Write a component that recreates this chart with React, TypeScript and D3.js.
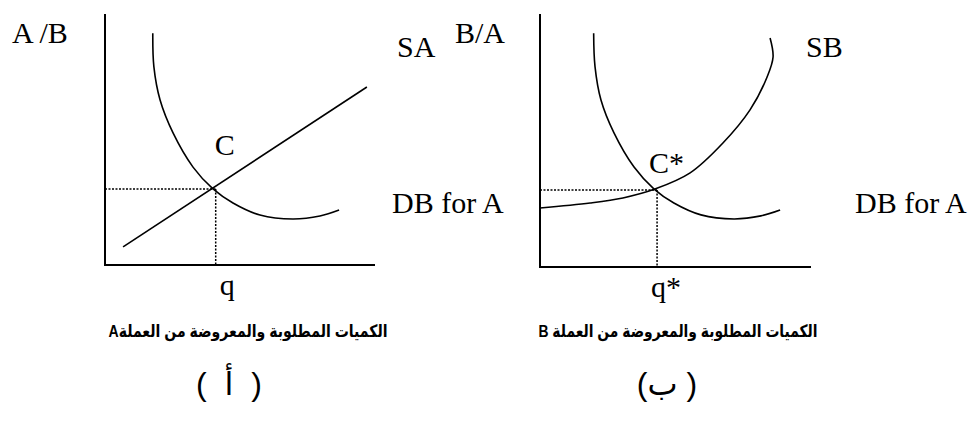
import React from 'react';
import * as d3 from 'd3';

// ---- data (abstract units 0..100 on each panel) ----
const demandA: [number, number][] = [
  [17.7, 92.3], [18.1, 79.0], [20.4, 65.7], [25.2, 52.6], [32.6, 39.0], [40.0, 30.3],
  [47.4, 24.7], [57.4, 19.9], [69.6, 18.3], [79.6, 19.5], [86.7, 21.9],
];
const supplyA: [number, number][] = [[6.7, 7.2], [97.0, 70.9]];
const demandB: [number, number][] = [
  [19.8, 92.4], [20.3, 79.2], [22.5, 66.0], [27.3, 53.0], [34.7, 39.5], [42.1, 30.8],
  [49.4, 25.3], [59.4, 20.6], [71.6, 19.0], [81.5, 20.2], [88.6, 22.5],
];
const supplyB: [number, number][] = [
  [0, 23.3], [18.5, 25.3], [30.6, 27.3], [42.4, 30.8], [55.4, 37.2], [67.5, 49.0],
  [77.5, 62.1], [83.8, 75.1], [86.0, 83.0], [84.9, 90.5],
];
const equilibriumA: [number, number] = [41, 30.3];
const equilibriumB: [number, number] = [43.2, 30.4];

const yLabels = ['A /B', 'B/A'];
const supplyLabels = ['SA', 'SB'];
const demandLabels = ['DB for A', 'DB for A'];
const pointLabels = ['C', 'C*'];
const qtyLabels = ['q', 'q*'];
const captions = ['الكميات المطلوبة والمعروضة من العملةA', 'الكميات المطلوبة والمعروضة من العملة B'];
const panelTags = ['(  أ  )', '( ب)'];

const serif = "'Liberation Serif', 'Times New Roman', serif";
const sans = "'Liberation Sans', Arial, 'DejaVu Sans', sans-serif";

type Panel = {
  x0: number; x1: number; yTop: number; yBot: number;
  demand: [number, number][]; supply: [number, number][]; eq: [number, number];
  idx: number; linearSupply: boolean;
};

function PanelView({ p }: { p: Panel }) {
  const x = d3.scaleLinear().domain([0, 100]).range([p.x0, p.x1]);
  const y = d3.scaleLinear().domain([0, 100]).range([p.yBot, p.yTop]);
  const curve = d3.line<[number, number]>().x(d => x(d[0])).y(d => y(d[1])).curve(d3.curveCatmullRom.alpha(0.5));
  const straight = d3.line<[number, number]>().x(d => x(d[0])).y(d => y(d[1]));
  const ex = x(p.eq[0]);
  const ey = y(p.eq[1]);
  const i = p.idx;
  return (
    <g>
      {/* axes */}
      <line x1={x(0)} x2={x(0)} y1={y(100)} y2={y(0) + 1} stroke="#000" strokeWidth={2} />
      <line x1={x(0)} x2={x(100)} y1={y(0)} y2={y(0)} stroke="#000" strokeWidth={2} />
      {/* dotted guides */}
      <line x1={x(0)} x2={ex} y1={ey} y2={ey} stroke="#000" strokeWidth={1.5} strokeDasharray="2 1.5" />
      <line x1={ex} x2={ex} y1={ey} y2={y(0)} stroke="#000" strokeWidth={1.5} strokeDasharray="2 1.5" />
      {/* curves */}
      <path d={curve(p.demand) || ''} fill="none" stroke="#000" strokeWidth={1.6} />
      <path d={(p.linearSupply ? straight(p.supply) : curve(p.supply)) || ''} fill="none" stroke="#000" strokeWidth={1.6} />
      {/* labels */}
      <g fontFamily={serif} fontSize={30} fill="#000">
        <text x={i === 0 ? 12 : 455} y={43}>{yLabels[i]}</text>
        <text x={i === 0 ? 397 : 806} y={57}>{supplyLabels[i]}</text>
        <text x={i === 0 ? 392 : 855} y={213}>{demandLabels[i]}</text>
        <text x={ex + (i === 0 ? -1 : -8)} y={ey + (i === 0 ? -34 : -17)}>{pointLabels[i]}</text>
        <text x={ex + (i === 0 ? 4 : -6)} y={y(0) + 30}>{qtyLabels[i]}</text>
      </g>
    </g>
  );
}

export default function App() {
  const panels: Panel[] = [
    { x0: 105, x1: 375, yTop: 14, yBot: 265, demand: demandA, supply: supplyA, eq: equilibriumA, idx: 0, linearSupply: true },
    { x0: 540, x1: 811, yTop: 14, yBot: 267, demand: demandB, supply: supplyB, eq: equilibriumB, idx: 1, linearSupply: false },
  ];
  const captionX = [248, 678];
  const tagX = [229, 667];
  return (
    <svg width={973} height={426} style={{ position: 'absolute', left: 0, top: 0, background: '#fff' }}>
      <rect width={973} height={426} fill="#fff" />
      {panels.map(p => <PanelView key={p.idx} p={p} />)}
      {captions.map((c, k) => (
        <text key={'c' + k} x={captionX[k]} y={337} textAnchor="middle" direction="rtl"
          textLength={279} lengthAdjust="spacingAndGlyphs"
          fontFamily={sans} fontWeight="bold" fontSize={17} fill="#000">{c}</text>
      ))}
      {panelTags.map((t, k) => (
        <text key={'t' + k} x={tagX[k]} y={395} textAnchor="middle" direction="rtl"
          style={{ whiteSpace: 'pre' }}
          fontFamily={sans} fontSize={32} fill="#000">{t}</text>
      ))}
    </svg>
  );
}
